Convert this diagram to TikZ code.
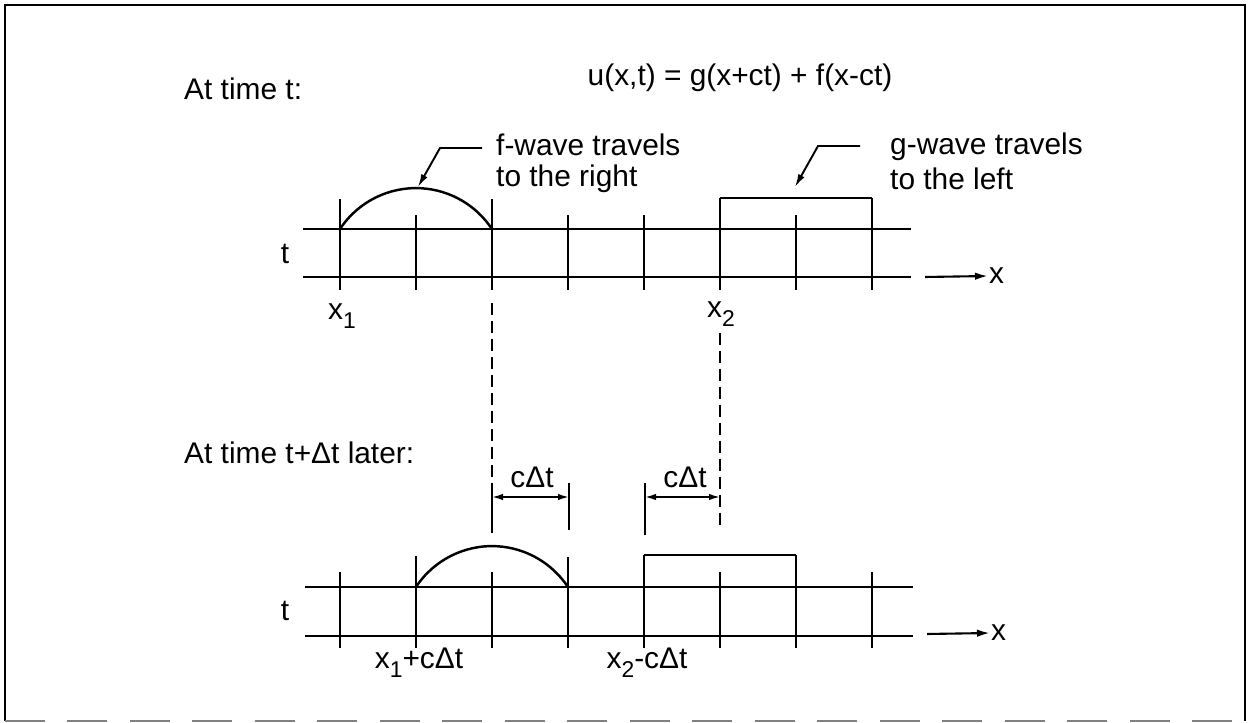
\documentclass[tikz,border=0pt]{standalone}
\usepackage{fontspec}
\setmainfont{Liberation Sans}
\usetikzlibrary{arrows.meta,positioning,calc}
\newcommand{\lowsub}[1]{\raisebox{-5.5pt}{\fontsize{13}{14}\selectfont #1}}

\begin{document}
\begin{tikzpicture}[
  x=0.02cm, y=-0.02cm,
  line width=1.4pt,
  lbl/.style={font=\fontsize{17}{20}\selectfont, inner sep=0pt},
  dimline/.style={line width=1pt, {Latex[length=2.2mm,width=1.3mm]}-{Latex[length=2.2mm,width=1.3mm]}},
  proj/.style={line width=1.1pt, dash pattern=on 0.24cm off 0.12cm},
  lead/.style={line width=1.1pt, -{Latex[length=2.6mm,width=1.4mm]}},
  xarrow/.style={line width=1.2pt, -{Latex[length=2.6mm,width=1.5mm]}}
]
\useasboundingbox (0,0) rectangle (1248,723);
\draw[line width=1.3pt] (5,721) -- (5,5) -- (1245,5) -- (1245,721);
\draw[line width=1pt, gray, dash pattern=on 0.8cm off 0.45cm] (5,721) -- (1245,721);

\node[lbl, anchor=base west] (timeA) at (183,100) {At time t:};
\node[lbl, anchor=base] (eqn) at (740,86) {u(x,t) = g(x+ct) + f(x-ct)};
\node[lbl, anchor=base west] (timeB) at (183,463) {At time t+Δt later:};

% upper row, time t
\draw (303,229) -- (911,229);
\draw (303,277) -- (911,277);
\foreach \x/\a in {340/199,416/215,492/199,568/215,644/215,720/198,796/215,872/198}
  \draw (\x,\a) -- (\x,290);
\draw (340,229) arc[start angle=146.6, end angle=33.4, radius=1.82cm];
\draw (720,198) -- (872,198);
\node[lbl, anchor=base] (tA) at (285,263) {t};
\node[lbl, anchor=base] (xoneA) at (342,319) {x\lowsub{1}};
\node[lbl, anchor=base] (xtwoA) at (721,317) {x\lowsub{2}};
\coordinate (axA) at (925,277);
\node[lbl, anchor=west] (xA) at (988,276) {x};
\draw[xarrow] (axA) -- (xA.west);

\node[lbl, anchor=base west] (fwA) at (495,155) {f-wave travels};
\node[lbl, anchor=base west] (fwB) at (495,187) {to the right};
\coordinate (fS) at (482,148);
\coordinate (fK) at (440,148);
\coordinate (fT) at (418,187);
\draw[lead] (fS) -- (fK) -- (fT);

\node[lbl, anchor=base west] (gwA) at (889,154) {g-wave travels};
\node[lbl, anchor=base west] (gwB) at (889,190) {to the left};
\coordinate (gS) at (860,146);
\coordinate (gK) at (818,146);
\coordinate (gT) at (795,187);
\draw[lead] (gS) -- (gK) -- (gT);

% lower row, time t+dt
\draw (305,587) -- (913,587);
\draw (305,636) -- (913,636);
\foreach \x/\a in {340/572,416/556,492/572,568/557,644/555,720/572,796/555,872/572}
  \draw (\x,\a) -- (\x,648);
\draw (416,587) arc[start angle=146.6, end angle=33.4, radius=1.82cm];
\draw (644,555) -- (796,555);
\node[lbl, anchor=base] (tB) at (285,620) {t};
\node[lbl, anchor=base] (xoneB) at (419,668) {x\lowsub{1}+cΔt};
\node[lbl, anchor=base] (xtwoB) at (647,668) {x\lowsub{2}-cΔt};
\coordinate (axB) at (927,634);
\node[lbl, anchor=west] (xB) at (990,633) {x};
\draw[xarrow] (axB) -- (xB.west);

% shift of the waves
\coordinate (pfA) at (492,303);
\coordinate (pfB) at (492,483);
\coordinate (pfC) at (492,533);
\coordinate (pgA) at (720,333);
\coordinate (pgB) at (720,530);
\draw[proj] (pfA) -- (pfB);
\draw[line width=1.1pt] (pfB) -- (pfC);
\draw[proj] (pgA) -- (pgB);
\coordinate (efA) at (569,483);
\coordinate (efB) at (569,530);
\coordinate (egA) at (645,483);
\coordinate (egB) at (645,535);
\draw[line width=1.1pt] (efA) -- (efB);
\draw[line width=1.1pt] (egA) -- (egB);
\draw[dimline] (492,497) -- (569,497);
\draw[dimline] (645,497) -- (720,497);
\node[lbl, anchor=base] (dF) at (532,487) {cΔt};
\node[lbl, anchor=base] (dG) at (685,487) {cΔt};
\end{tikzpicture}
\end{document}
